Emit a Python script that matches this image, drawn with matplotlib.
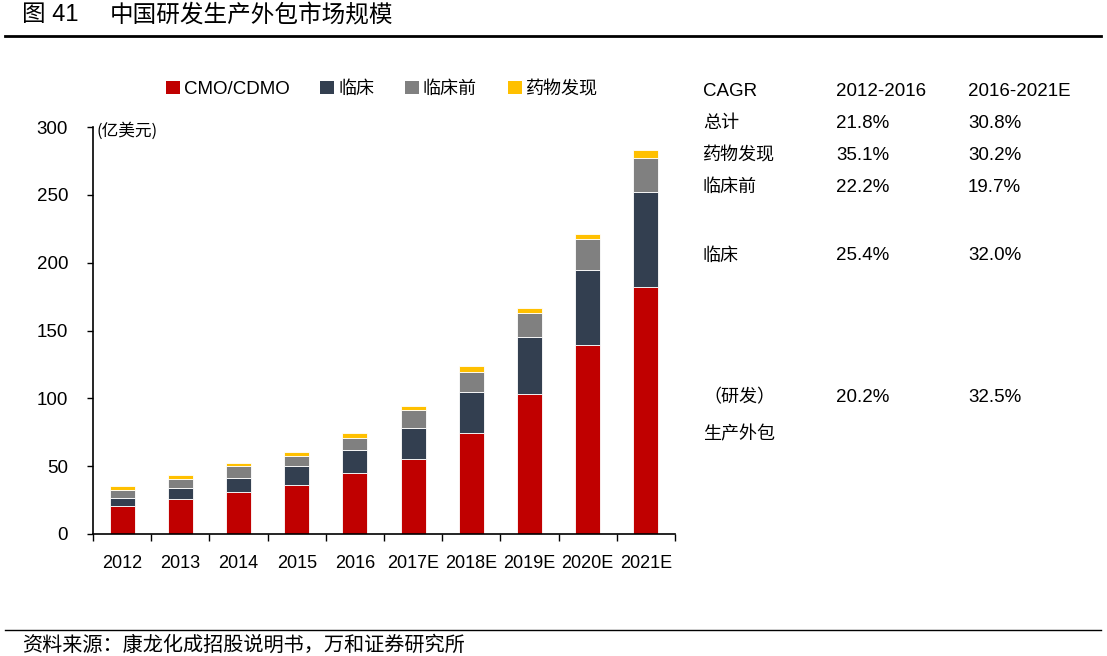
import numpy as np
import matplotlib
matplotlib.use("Agg")
import matplotlib.pyplot as plt
from matplotlib.lines import Line2D
from matplotlib.patches import Patch
from matplotlib.ticker import FixedLocator

# data (亿美元)
years = ['2012', '2013', '2014', '2015', '2016', '2017E', '2018E', '2019E', '2020E', '2021E']
cmo = [20.3, 25.7, 31.3, 36.4, 44.7, 55.5, 74.1, 103.4, 139.6, 182.4]
clinical = [6.6, 8.0, 10.3, 13.5, 17.2, 22.5, 30.5, 41.6, 54.8, 69.7]
preclinical = [5.6, 6.6, 8.3, 7.8, 9.2, 13.4, 14.7, 17.6, 23.0, 25.4]
discovery = [2.7, 3.0, 2.7, 2.9, 3.0, 3.0, 4.2, 3.7, 3.9, 5.4]

series_names = ['CMO/CDMO', '临床', '临床前', '药物发现']
series_colors = ['#C00000', '#333F50', '#808080', '#FFC000']

cagr_header = ['CAGR', '2012-2016', '2016-2021E']
cagr_rows = ['总计', '药物发现', '临床前', '临床', '（研发）']
cagr_a = ['21.8%', '35.1%', '22.2%', '25.4%', '20.2%']
cagr_b = ['30.8%', '30.2%', '19.7%', '32.0%', '32.5%']
cagr_row_y = [123, 155, 187, 256, 397]

LAT = ['Liberation Sans', 'Noto Sans CJK SC']
CJK = ['Noto Sans CJK SC', 'DejaVu Sans']
plt.rcParams['font.family'] = LAT

W, H = 1107, 656
fig = plt.figure(figsize=(W / 100, H / 100), dpi=100)


def fx(px):
    return px / W


def fy(py):
    return 1 - py / H


ax = fig.add_axes([fx(93), fy(534), fx(675) - fx(93), fy(127) - fy(534)])

x = np.arange(len(years))
bottom = np.zeros(len(years))
for vals, name, col in zip([cmo, clinical, preclinical, discovery], series_names, series_colors):
    ax.bar(x, vals, width=0.43, bottom=bottom, color=col, edgecolor='white', linewidth=0.6, label=name)
    bottom += np.array(vals)

ax.set_xlim(-0.5, len(years) - 0.5)
ax.set_ylim(0, 300)
ax.set_yticks(np.arange(0, 301, 50))
ax.set_xticks(x)
ax.set_xticklabels(years)
ax.xaxis.set_minor_locator(FixedLocator(np.arange(-0.5, len(years), 1.0)))
ax.tick_params(axis='x', which='major', length=0, pad=15, labelsize=13)
ax.tick_params(axis='x', which='minor', length=5, width=1, direction='out')
ax.tick_params(axis='y', length=4, width=1, direction='out', pad=14, labelsize=13.5)
for s in ['top', 'right']:
    ax.spines[s].set_visible(False)
for s in ['left', 'bottom']:
    ax.spines[s].set_linewidth(1.2)

fig.text(fx(97), fy(131), '(亿美元)', family=CJK, fontsize=12, va='center', ha='left')

# legend
handles = [Patch(facecolor=c, edgecolor='none') for c in series_colors]
leg = fig.legend(handles, series_names, loc='center left', bbox_to_anchor=(fx(149), fy(89)),
                 ncol=4, frameon=False, handlelength=0.75, handleheight=0.75,
                 handletextpad=0.2, columnspacing=1.65, prop={'family': LAT, 'size': 13.5})
for t in leg.get_texts()[1:]:
    t.set_fontsize(13)
    t.set_family(CJK)

# title block
fig.text(fx(22), fy(15), '图 41', family=['Liberation Sans', 'Noto Sans CJK SC'], fontsize=17,
         va='center', ha='left')
fig.text(fx(110), fy(15), '中国研发生产外包市场规模', family=CJK, fontsize=17, va='center', ha='left')
fig.add_artist(Line2D([fx(5), fx(1101)], [fy(36), fy(36)], color='black', lw=2))
fig.add_artist(Line2D([fx(5), fx(1101)], [fy(630), fy(630)], color='black', lw=1))
fig.text(fx(22), fy(645), '资料来源：康龙化成招股说明书，万和证券研究所', family=CJK, fontsize=14.5,
         va='center', ha='left')

# CAGR table
col_x = [703, 836, 968]
for cx, txt in zip(col_x, cagr_header):
    fig.text(fx(cx), fy(92), txt, fontsize=13.5, va='center', ha='left')
for ry, name, a, b in zip(cagr_row_y, cagr_rows, cagr_a, cagr_b):
    fig.text(fx(col_x[0]), fy(ry), name, family=CJK, fontsize=13, va='center', ha='left')
    fig.text(fx(col_x[1]), fy(ry), a, fontsize=13.5, va='center', ha='left')
    fig.text(fx(col_x[2]), fy(ry), b, fontsize=13.5, va='center', ha='left')
fig.text(fx(col_x[0]), fy(434), '生产外包', family=CJK, fontsize=13, va='center', ha='left')

fig.savefig('out.png', dpi=100)
